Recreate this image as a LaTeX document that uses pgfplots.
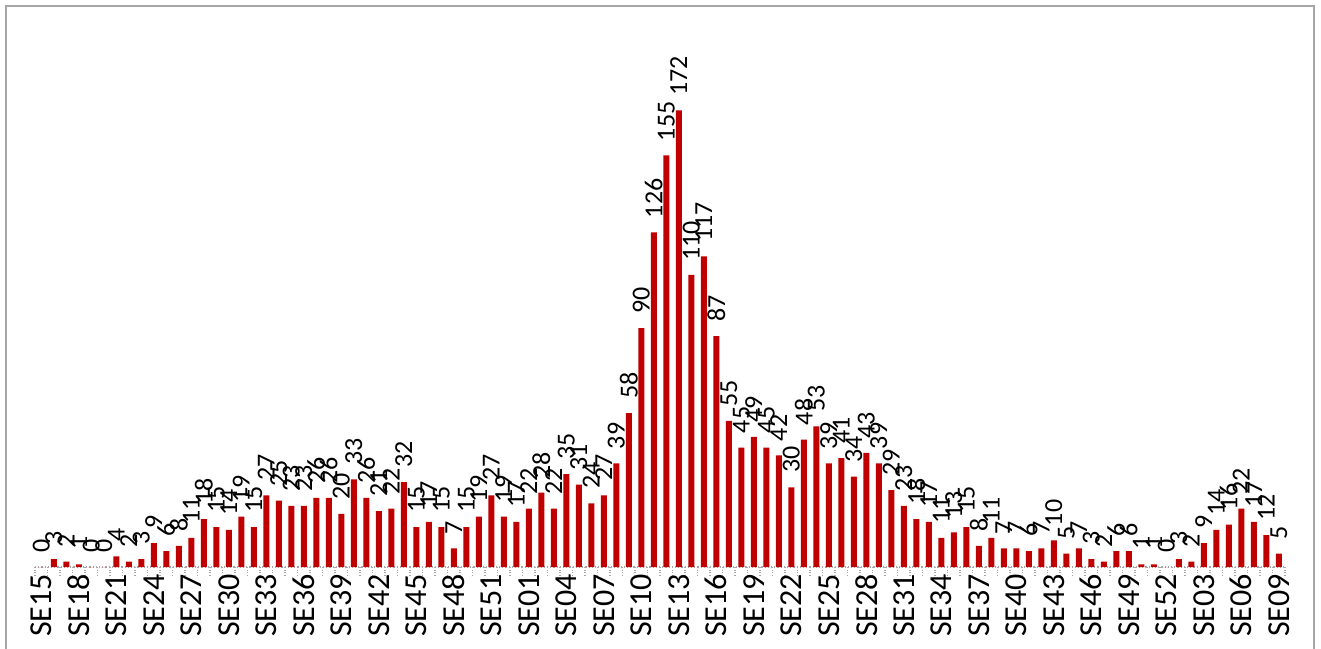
\documentclass[border=0pt]{standalone}
\usepackage{fontspec}
\setmainfont{Carlito}
\usepackage{pgfplots}
\pgfplotsset{compat=1.18}
\usepackage{pgfplotstable}
\definecolor{barred}{HTML}{C00000}
\definecolor{framegray}{HTML}{A6A6A6}
\pgfplotstableread{
x y
0 0
1 3
2 2
3 1
4 0
5 0
6 4
7 2
8 3
9 9
10 6
11 8
12 11
13 18
14 15
15 14
16 19
17 15
18 27
19 25
20 23
21 23
22 26
23 26
24 20
25 33
26 26
27 21
28 22
29 32
30 15
31 17
32 15
33 7
34 15
35 19
36 27
37 19
38 17
39 22
40 28
41 22
42 35
43 31
44 24
45 27
46 39
47 58
48 90
49 126
50 155
51 172
52 110
53 117
54 87
55 55
56 45
57 49
58 45
59 42
60 30
61 48
62 53
63 39
64 41
65 34
66 43
67 39
68 29
69 23
70 18
71 17
72 11
73 13
74 15
75 8
76 11
77 7
78 7
79 6
80 7
81 10
82 5
83 7
84 3
85 2
86 6
87 6
88 1
89 1
90 0
91 3
92 2
93 9
94 14
95 16
96 22
97 17
98 12
99 5
}\datatable
\begin{document}
\begin{tikzpicture}
\path[use as bounding box] (0,0) rectangle (660.5pt,324pt);
\draw[framegray, line width=1pt] (3pt,-5pt) -- (3pt,321pt) -- (657pt,321pt) -- (657pt,-5pt);
\begin{axis}[
  at={(17.5pt,40.5pt)}, anchor=south west,
  scale only axis, width=625pt, height=265.5pt,
  xmin=-0.5, xmax=99.5, ymin=0, ymax=200,
  axis y line=none, axis x line*=bottom,
  x axis line style={densely dotted, gray!70, line width=0.6pt},
  xtick={0,3,...,99},
  xticklabels={SE15,SE18,SE21,SE24,SE27,SE30,SE33,SE36,SE39,SE42,SE45,SE48,SE51,SE01,SE04,SE07,SE10,SE13,SE16,SE19,SE22,SE25,SE28,SE31,SE34,SE37,SE40,SE43,SE46,SE49,SE52,SE03,SE06,SE09},
  major tick length=0pt,
  minor xtick={-0.5,0.5,...,99.5},
  minor tick length=4pt, tick align=outside,
  minor tick style={densely dotted, gray!70, line width=0.6pt},
  xticklabel style={rotate=90, anchor=east, font=\fontsize{16}{16}\selectfont, text=black},
  ybar, bar width=0.48,
  nodes near coords,
  nodes near coords style={rotate=90, anchor=west, inner xsep=7pt, font=\fontsize{13}{13}\selectfont, text=black},
  /pgf/number format/assume math mode=true,
  clip=false,
]
\addplot[fill=barred, draw=none] table[x=x,y=y]{\datatable};
\end{axis}
\end{tikzpicture}
\end{document}
